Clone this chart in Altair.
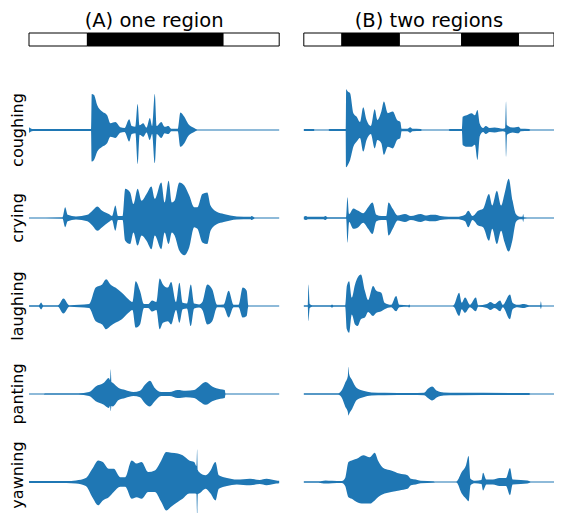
import altair as alt
import pandas as pd

ROWS = ["coughing", "crying", "laughing", "panting", "yawning"]
COLUMN_TITLES = ["(A) one region", "(B) two regions"]
CLIP_LEN = 2.54      # seconds shown per panel
COL_GAP = 0.25       # gap between the two columns (seconds of axis)
ROW_STEP = 2.2       # vertical distance between rows (amplitude units)

# region indicator bars: (start, end, filled)
regions_a = [(0.0, 0.593, 0), (0.593, 1.97, 1), (1.97, 2.54, 0)]
regions_b = [(0.0, 0.387, 0), (0.387, 0.97, 1), (0.97, 1.603, 0),
             (1.603, 2.18, 1), (2.18, 2.54, 0)]

# waveform envelopes: (time s, upper amplitude, lower amplitude)
coughing_a = [
    (0.0, 0.07, 0.07), (0.04, 0.025, 0.025), (0.63, 0.025, 0.025), (0.637, 0.9, 0.79),
    (0.66, 0.875, 0.75), (0.693, 0.62, 0.54), (0.743, 0.46, 0.42), (0.793, 0.37, 0.33),
    (0.827, 0.17, 0.17), (0.877, 0.2, 0.2), (0.927, 0.07, 0.07), (0.97, 0.05, 0.05),
    (1.017, 0.27, 0.29), (1.043, 0.1, 0.1), (1.08, 0.08, 0.08), (1.103, 0.65, 0.85),
    (1.123, 0.12, 0.12), (1.16, 0.17, 0.17), (1.193, 0.06, 0.06), (1.227, 0.3, 0.25),
    (1.25, 0.1, 0.1), (1.277, 0.9, 0.83), (1.297, 0.1, 0.1), (1.343, 0.2, 0.2),
    (1.377, 0.08, 0.08), (1.417, 0.1, 0.1), (1.443, 0.03, 0.03), (1.51, 0.03, 0.03),
    (1.537, 0.44, 0.42), (1.577, 0.33, 0.33), (1.617, 0.15, 0.15), (1.677, 0.05, 0.05),
    (1.71, 0.015, 0.015), (2.54, 0.015, 0.015)]
coughing_b = [
    (0.0, 0.025, 0.025), (0.1, 0.025, 0.025), (0.11, 0.015, 0.015), (0.25, 0.015, 0.015),
    (0.26, 0.025, 0.025), (0.425, 0.025, 0.025), (0.43, 1.02, 0.93), (0.447, 0.96, 0.875),
    (0.47, 0.92, 0.75), (0.503, 0.42, 0.42), (0.537, 0.33, 0.29), (0.57, 0.2, 0.2),
    (0.603, 0.57, 0.54), (0.637, 0.25, 0.25), (0.68, 0.1, 0.1), (0.72, 0.52, 0.46),
    (0.747, 0.25, 0.25), (0.787, 0.46, 0.33), (0.813, 0.71, 0.62), (0.853, 0.42, 0.42),
    (0.903, 0.46, 0.46), (0.947, 0.25, 0.25), (0.98, 0.2, 0.2), (0.993, 0.03, 0.03),
    (1.053, 0.03, 0.03), (1.08, 0.07, 0.07), (1.103, 0.03, 0.03), (1.187, 0.025, 0.025),
    (1.2, 0.015, 0.015), (1.47, 0.015, 0.015), (1.48, 0.025, 0.025), (1.605, 0.025, 0.025),
    (1.613, 0.33, 0.375), (1.653, 0.37, 0.42), (1.703, 0.42, 0.42), (1.737, 0.37, 0.37),
    (1.763, 0.5, 0.75), (1.787, 0.15, 0.15), (1.82, 0.05, 0.05), (1.847, 0.1, 0.1),
    (1.887, 0.05, 0.05), (1.937, 0.06, 0.06), (2.02, 0.03, 0.03), (2.045, 0.05, 0.05),
    (2.053, 0.71, 0.67), (2.063, 0.12, 0.12), (2.12, 0.06, 0.06), (2.18, 0.08, 0.08),
    (2.203, 0.03, 0.03), (2.287, 0.025, 0.025), (2.3, 0.012, 0.012), (2.54, 0.012, 0.012)]
crying_a = [
    (0.0, 0.015, 0.015), (0.34, 0.02, 0.02), (0.367, 0.27, 0.23), (0.393, 0.08, 0.08),
    (0.477, 0.04, 0.04), (0.593, 0.08, 0.08), (0.643, 0.18, 0.19), (0.693, 0.29, 0.32),
    (0.743, 0.18, 0.23), (0.81, 0.1, 0.1), (0.843, 0.05, 0.05), (0.877, 0.31, 0.32),
    (0.903, 0.05, 0.05), (0.95, 0.05, 0.05), (0.977, 0.73, 0.57), (1.027, 0.64, 0.65),
    (1.06, 0.35, 0.36), (1.103, 0.73, 0.69), (1.143, 0.43, 0.44), (1.193, 0.6, 0.57),
    (1.243, 0.79, 0.78), (1.277, 0.48, 0.44), (1.343, 0.89, 0.78), (1.377, 0.39, 0.36),
    (1.417, 0.93, 0.65), (1.45, 0.39, 0.36), (1.477, 0.43, 0.43), (1.527, 0.89, 0.82),
    (1.577, 0.81, 0.93), (1.627, 0.56, 0.73), (1.677, 0.27, 0.23), (1.71, 0.27, 0.27),
    (1.76, 0.6, 0.61), (1.81, 0.64, 0.65), (1.843, 0.31, 0.32), (1.91, 0.15, 0.15),
    (1.977, 0.1, 0.1), (2.043, 0.06, 0.06), (2.11, 0.04, 0.04), (2.25, 0.03, 0.03),
    (2.26, 0.05, 0.05), (2.293, 0.015, 0.015), (2.54, 0.015, 0.015)]
crying_b = [
    (0.0, 0.03, 0.03), (0.02, 0.05, 0.05), (0.04, 0.03, 0.03), (0.2, 0.03, 0.03),
    (0.22, 0.05, 0.05), (0.24, 0.02, 0.02), (0.43, 0.02, 0.02), (0.443, 0.52, 0.62),
    (0.46, 0.1, 0.1), (0.503, 0.24, 0.27), (0.553, 0.18, 0.23), (0.603, 0.12, 0.12),
    (0.653, 0.27, 0.27), (0.697, 0.39, 0.4), (0.737, 0.08, 0.08), (0.787, 0.05, 0.05),
    (0.837, 0.05, 0.05), (0.86, 0.39, 0.44), (0.903, 0.23, 0.27), (0.953, 0.06, 0.06),
    (1.027, 0.1, 0.1), (1.087, 0.05, 0.05), (1.187, 0.1, 0.1), (1.237, 0.06, 0.06),
    (1.287, 0.08, 0.08), (1.337, 0.08, 0.08), (1.387, 0.05, 0.05), (1.47, 0.03, 0.03),
    (1.553, 0.03, 0.03), (1.637, 0.08, 0.08), (1.67, 0.18, 0.23), (1.713, 0.05, 0.05),
    (1.77, 0.18, 0.19), (1.82, 0.23, 0.23), (1.88, 0.6, 0.57), (1.913, 0.31, 0.27),
    (1.96, 0.68, 0.65), (2.003, 0.31, 0.32), (2.037, 0.6, 0.6), (2.08, 0.98, 0.84),
    (2.12, 0.43, 0.53), (2.153, 0.1, 0.1), (2.193, 0.03, 0.03), (2.22, 0.03, 0.03),
    (2.227, 0.1, 0.1), (2.235, 0.02, 0.02), (2.3, 0.012, 0.012), (2.54, 0.012, 0.012)]
laughing_a = [
    (0.0, 0.02, 0.02), (0.1, 0.02, 0.02), (0.123, 0.09, 0.09), (0.143, 0.02, 0.02),
    (0.293, 0.02, 0.02), (0.35, 0.19, 0.19), (0.41, 0.02, 0.02), (0.51, 0.03, 0.03),
    (0.61, 0.05, 0.05), (0.677, 0.46, 0.38), (0.743, 0.54, 0.46), (0.783, 0.67, 0.58),
    (0.827, 0.54, 0.5), (0.877, 0.46, 0.42), (0.943, 0.33, 0.33), (1.01, 0.17, 0.17),
    (1.05, 0.1, 0.1), (1.083, 0.62, 0.54), (1.127, 0.38, 0.46), (1.167, 0.05, 0.05),
    (1.21, 0.05, 0.05), (1.25, 0.14, 0.14), (1.293, 0.1, 0.1), (1.327, 0.69, 0.58),
    (1.36, 0.54, 0.42), (1.41, 0.46, 0.38), (1.443, 0.6, 0.46), (1.493, 0.1, 0.1),
    (1.527, 0.58, 0.42), (1.56, 0.08, 0.08), (1.603, 0.06, 0.06), (1.643, 0.54, 0.5),
    (1.677, 0.06, 0.06), (1.727, 0.04, 0.04), (1.76, 0.1, 0.1), (1.81, 0.54, 0.46),
    (1.86, 0.42, 0.38), (1.91, 0.03, 0.03), (1.977, 0.04, 0.04), (2.027, 0.38, 0.29),
    (2.077, 0.03, 0.03), (2.127, 0.03, 0.03), (2.17, 0.46, 0.29), (2.21, 0.38, 0.25),
    (2.227, 0.015, 0.015), (2.54, 0.015, 0.015)]
laughing_b = [
    (0.0, 0.02, 0.02), (0.04, 0.02, 0.02), (0.047, 0.54, 0.38), (0.06, 0.05, 0.05),
    (0.087, 0.02, 0.02), (0.27, 0.02, 0.02), (0.287, 0.04, 0.04), (0.3, 0.02, 0.02),
    (0.42, 0.02, 0.02), (0.437, 0.5, 0.58), (0.46, 0.62, 0.67), (0.487, 0.21, 0.21),
    (0.52, 0.54, 0.46), (0.547, 0.71, 0.5), (0.58, 0.79, 0.33), (0.62, 0.38, 0.29),
    (0.653, 0.15, 0.15), (0.703, 0.5, 0.25), (0.737, 0.38, 0.17), (0.787, 0.33, 0.13),
    (0.82, 0.08, 0.08), (0.887, 0.03, 0.03), (0.937, 0.25, 0.13), (0.97, 0.03, 0.03),
    (1.06, 0.02, 0.02), (1.07, 0.04, 0.04), (1.08, 0.015, 0.015), (1.5, 0.015, 0.015),
    (1.52, 0.02, 0.02), (1.577, 0.33, 0.25), (1.603, 0.08, 0.08), (1.637, 0.21, 0.17),
    (1.687, 0.03, 0.03), (1.747, 0.21, 0.13), (1.77, 0.02, 0.02), (1.86, 0.05, 0.05),
    (1.893, 0.1, 0.1), (1.937, 0.05, 0.05), (1.993, 0.14, 0.13), (2.02, 0.03, 0.03),
    (2.093, 0.29, 0.33), (2.12, 0.08, 0.08), (2.17, 0.03, 0.03), (2.237, 0.05, 0.05),
    (2.287, 0.02, 0.02), (2.4, 0.02, 0.02), (2.407, 0.12, 0.08), (2.415, 0.015, 0.015),
    (2.54, 0.015, 0.015)]
panting_a = [
    (0.0, 0.012, 0.012), (0.15, 0.012, 0.012), (0.16, 0.02, 0.02), (0.5, 0.02, 0.02),
    (0.61, 0.05, 0.05), (0.677, 0.19, 0.18), (0.76, 0.28, 0.27), (0.81, 0.4, 0.35),
    (0.823, 0.35, 0.3), (0.83, 0.62, 0.43), (0.837, 0.3, 0.3), (0.85, 0.28, 0.31),
    (0.91, 0.15, 0.15), (0.977, 0.1, 0.1), (1.06, 0.05, 0.05), (1.127, 0.08, 0.08),
    (1.177, 0.23, 0.23), (1.227, 0.33, 0.31), (1.277, 0.15, 0.18), (1.343, 0.05, 0.05),
    (1.427, 0.05, 0.05), (1.51, 0.1, 0.1), (1.593, 0.08, 0.08), (1.677, 0.1, 0.1),
    (1.727, 0.19, 0.18), (1.793, 0.3, 0.27), (1.86, 0.19, 0.18), (1.943, 0.12, 0.12),
    (1.987, 0.1, 0.1), (1.995, 0.012, 0.012), (2.54, 0.012, 0.012)]
panting_b = [
    (0.0, 0.02, 0.02), (0.35, 0.02, 0.02), (0.387, 0.1, 0.1), (0.42, 0.28, 0.31),
    (0.447, 0.45, 0.45), (0.453, 0.68, 0.54), (0.46, 0.5, 0.5), (0.487, 0.36, 0.39),
    (0.537, 0.15, 0.15), (0.603, 0.08, 0.08), (0.687, 0.04, 0.04), (0.82, 0.03, 0.03),
    (1.087, 0.025, 0.025), (1.22, 0.03, 0.03), (1.26, 0.13, 0.1), (1.303, 0.19, 0.16),
    (1.353, 0.08, 0.08), (1.42, 0.04, 0.04), (1.553, 0.03, 0.03), (2.287, 0.025, 0.025),
    (2.3, 0.012, 0.012), (2.54, 0.012, 0.012)]
yawning_a = [
    (0.0, 0.025, 0.025), (0.38, 0.025, 0.025), (0.477, 0.04, 0.04), (0.577, 0.1, 0.1),
    (0.643, 0.33, 0.38), (0.703, 0.54, 0.58), (0.75, 0.5, 0.46), (0.81, 0.33, 0.38),
    (0.86, 0.33, 0.25), (0.927, 0.12, 0.12), (0.977, 0.12, 0.12), (1.043, 0.54, 0.42),
    (1.093, 0.46, 0.38), (1.143, 0.5, 0.42), (1.21, 0.25, 0.25), (1.277, 0.29, 0.25),
    (1.343, 0.54, 0.5), (1.393, 0.75, 0.71), (1.443, 0.73, 0.62), (1.51, 0.71, 0.5),
    (1.56, 0.67, 0.42), (1.627, 0.54, 0.29), (1.677, 0.5, 0.29), (1.7, 0.4, 0.3),
    (1.707, 0.82, 0.88), (1.714, 0.3, 0.3), (1.727, 0.25, 0.29), (1.793, 0.17, 0.17),
    (1.843, 0.29, 0.29), (1.893, 0.5, 0.46), (1.927, 0.17, 0.17), (2.01, 0.1, 0.1),
    (2.11, 0.06, 0.06), (2.243, 0.08, 0.08), (2.343, 0.05, 0.05), (2.41, 0.08, 0.08),
    (2.51, 0.04, 0.04), (2.54, 0.03, 0.03)]
yawning_b = [
    (0.0, 0.02, 0.02), (0.15, 0.02, 0.02), (0.22, 0.04, 0.04), (0.287, 0.03, 0.03),
    (0.387, 0.025, 0.025), (0.42, 0.1, 0.1), (0.453, 0.5, 0.38), (0.487, 0.54, 0.42),
    (0.537, 0.58, 0.5), (0.603, 0.67, 0.54), (0.67, 0.62, 0.54), (0.72, 0.73, 0.46),
    (0.753, 0.54, 0.38), (0.82, 0.33, 0.29), (0.887, 0.29, 0.25), (0.97, 0.21, 0.21),
    (1.053, 0.17, 0.17), (1.087, 0.08, 0.08), (1.137, 0.06, 0.06), (1.187, 0.03, 0.03),
    (1.32, 0.02, 0.02), (1.33, 0.012, 0.012), (1.54, 0.012, 0.012), (1.553, 0.02, 0.02),
    (1.603, 0.25, 0.29), (1.647, 0.42, 0.42), (1.673, 0.65, 0.48), (1.693, 0.08, 0.08),
    (1.737, 0.03, 0.03), (1.803, 0.05, 0.05), (1.82, 0.23, 0.21), (1.853, 0.06, 0.06),
    (1.92, 0.06, 0.06), (1.987, 0.1, 0.1), (2.053, 0.1, 0.1), (2.093, 0.35, 0.33),
    (2.12, 0.06, 0.06), (2.203, 0.05, 0.05), (2.27, 0.04, 0.04), (2.303, 0.015, 0.015),
    (2.54, 0.015, 0.015)]

WAVES = {
    "coughing": (coughing_a, coughing_b),
    "crying": (crying_a, crying_b),
    "laughing": (laughing_a, laughing_b),
    "panting": (panting_a, panting_b),
    "yawning": (yawning_a, yawning_b),
}

BLUE = "#1f77b4"
FONT = "DejaVu Sans"
COL_OFFSET = CLIP_LEN + COL_GAP

# ---- build tables ----
wave_rows = []
for r, name in enumerate(ROWS):
    for c, env in enumerate(WAVES[name]):
        for t, hi, lo in env:
            wave_rows.append(dict(key=f"{name}-{c}", row=r, col=c, t=t, hi=hi, lo=lo))
wave_df = pd.DataFrame(wave_rows)

bar_rows = []
for c, segs in enumerate([regions_a, regions_b]):
    for s, e, f in segs:
        bar_rows.append(dict(col=c, start=s, end=e, filled=f))
bar_df = pd.DataFrame(bar_rows)

title_df = pd.DataFrame(dict(col=[0, 1], label=COLUMN_TITLES))
label_df = pd.DataFrame(dict(row=list(range(len(ROWS))), label=ROWS))

PX = 40.0                      # pixels per amplitude unit
PLOT_W = 525
PLOT_H = 480
X_PX = PLOT_W / (2 * CLIP_LEN + COL_GAP)
y_top = 2.425
y_bot = y_top - PLOT_H / PX
xscale = alt.Scale(domain=[0, 2 * CLIP_LEN + COL_GAP], nice=False, zero=False)
yscale = alt.Scale(domain=[y_bot, y_top], nice=False, zero=False)

waves = alt.Chart(wave_df).transform_calculate(
    xpos=f"datum.t + datum.col * {COL_OFFSET}",
    top=f"-datum.row * {ROW_STEP} + datum.hi",
    bot=f"-datum.row * {ROW_STEP} - datum.lo",
).mark_area(color=BLUE, interpolate="monotone").encode(
    x=alt.X("xpos:Q", scale=xscale, axis=None),
    y=alt.Y("top:Q", scale=yscale, axis=None),
    y2="bot:Q",
    detail="key:N",
)

bars = alt.Chart(bar_df).transform_calculate(
    x1=f"datum.start + datum.col * {COL_OFFSET}",
    x2=f"datum.end + datum.col * {COL_OFFSET}",
    b1=f"{y_top - 13 / PX}",
    b2=f"{y_top}",
).mark_rect(stroke="black", strokeWidth=1).encode(
    x=alt.X("x1:Q", scale=xscale, axis=None),
    x2="x2:Q",
    y=alt.Y("b1:Q", scale=yscale, axis=None),
    y2="b2:Q",
    color=alt.Color("filled:N", scale=alt.Scale(domain=[0, 1], range=["white", "black"]), legend=None),
)

titles = alt.Chart(title_df).transform_calculate(
    xc=f"{CLIP_LEN / 2} + datum.col * {COL_OFFSET}",
    yc=f"{y_top + 6 / PX}",
).mark_text(font=FONT, fontSize=19.5, baseline="alphabetic", align="center", color="black").encode(
    x=alt.X("xc:Q", scale=xscale, axis=None),
    y=alt.Y("yc:Q", scale=yscale, axis=None),
    text="label:N",
)

labels = alt.Chart(label_df).transform_calculate(
    xc=f"{-6.0 / X_PX}",
    yc=f"max(-datum.row * {ROW_STEP}, {y_bot + 0.95})",
).mark_text(font=FONT, fontSize=16, baseline="alphabetic", align="center", angle=270, color="black").encode(
    x=alt.X("xc:Q", scale=xscale, axis=None),
    y=alt.Y("yc:Q", scale=yscale, axis=None),
    text="label:N",
)

chart = alt.layer(waves, bars, titles, labels).properties(
    width=PLOT_W,
    height=PLOT_H,
    autosize=alt.AutoSizeParams(type="none"),
    padding={"left": 21, "top": 25, "right": 0, "bottom": 0},
).configure_view(stroke=None)

chart.save("out.html", embed_options={"renderer": "svg", "actions": False})
